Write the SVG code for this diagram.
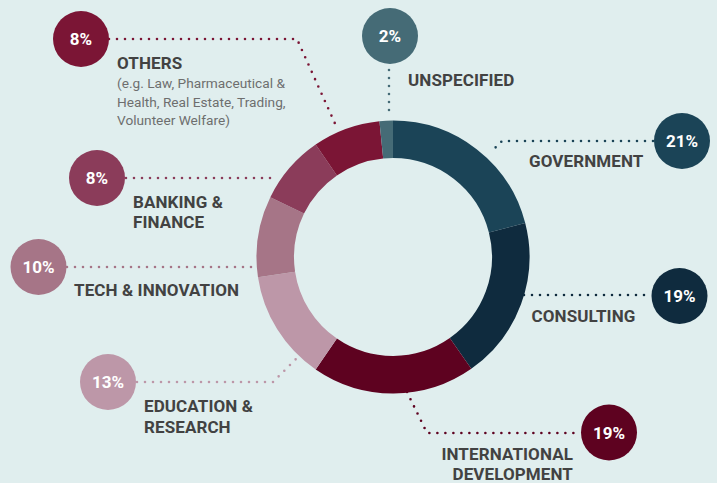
<svg xmlns="http://www.w3.org/2000/svg" width="717" height="483" viewBox="0 0 717 483">
<style>
.lbl{font-family:Roboto,"Liberation Sans",Arial,sans-serif;font-weight:bold;font-size:17px;letter-spacing:0.1px;fill:#424242}
.sub{font-family:Roboto,"Liberation Sans",Arial,sans-serif;font-size:13.7px;fill:#6e6e6e}
.pct{font-family:Roboto,"Liberation Sans",Arial,sans-serif;font-weight:bold;font-size:17px;fill:#ffffff;text-anchor:middle}
.seg{fill:none;stroke-width:37.5}
.dot{fill:none;stroke-width:2.6;stroke-linecap:round;stroke-linejoin:round;stroke-dasharray:0 8}
</style>
<rect x="0" y="0" width="717" height="483" fill="#e0eeee"/>
<g id="donut">
<path class="seg" stroke="#1b4457" d="M393 139.25 A117.75 117.75 0 0 1 507.05 227.72"/>
<path class="seg" stroke="#0f2b3e" d="M507.05 227.72 A117.75 117.75 0 0 1 460.54 353.45"/>
<path class="seg" stroke="#5e0220" d="M460.54 353.45 A117.75 117.75 0 0 1 326.30 354.04"/>
<path class="seg" stroke="#bd97a8" d="M326.30 354.04 A117.75 117.75 0 0 1 276.54 274.40"/>
<path class="seg" stroke="#a67587" d="M276.54 274.40 A117.75 117.75 0 0 1 287.17 205.38"/>
<path class="seg" stroke="#8b3c5a" d="M287.17 205.38 A117.75 117.75 0 0 1 326.30 159.96"/>
<path class="seg" stroke="#7b1535" d="M326.30 159.96 A117.75 117.75 0 0 1 381.31 139.83"/>
<path class="seg" stroke="#456b76" d="M381.31 139.83 A117.75 117.75 0 0 1 393 139.25"/>
</g>
<g id="connectors">
<path class="dot" stroke="#7b1535" d="M109 39 H297 L337 128"/>
<path class="dot" stroke="#456b76" d="M389 70 V118"/>
<path class="dot" stroke="#1b4457" d="M653 141 H502 L490 153"/>
<path class="dot" stroke="#8b3c5a" d="M126 178 H276"/>
<path class="dot" stroke="#a67587" d="M67 267 H254"/>
<path class="dot" stroke="#bd97a8" d="M137 382 H273 L297 358"/>
<path class="dot" stroke="#0f2b3e" d="M524 295 H652"/>
<path class="dot" stroke="#5e0220" d="M407 392 L427 433 H581"/>
</g>
<g id="others">
<circle cx="81" cy="39" r="28" fill="#7b1535"/>
<text class="pct" x="81" y="45">8%</text>
<text class="lbl" x="117" y="69">OTHERS</text>
<text class="sub" x="117" y="87.5">(e.g. Law, Pharmaceutical &amp;</text>
<text class="sub" x="117" y="106.5">Health, Real Estate, Trading,</text>
<text class="sub" x="117" y="125">Volunteer Welfare)</text>
</g>
<g id="unspecified">
<circle cx="390" cy="36" r="28" fill="#456b76"/>
<text class="pct" x="390" y="42">2%</text>
<text class="lbl" x="408" y="86">UNSPECIFIED</text>
</g>
<g id="government">
<circle cx="682" cy="141" r="28" fill="#1b4457"/>
<text class="pct" x="682" y="147">21%</text>
<text class="lbl" x="529" y="166.5">GOVERNMENT</text>
</g>
<g id="banking">
<circle cx="97" cy="178" r="28" fill="#8b3c5a"/>
<text class="pct" x="97" y="184">8%</text>
<text class="lbl" x="133" y="207.5">BANKING &amp;</text>
<text class="lbl" x="133" y="227.5">FINANCE</text>
</g>
<g id="tech">
<circle cx="38.5" cy="267" r="28" fill="#a67587"/>
<text class="pct" x="38.5" y="273">10%</text>
<text class="lbl" x="74" y="295.5">TECH &amp; INNOVATION</text>
</g>
<g id="education">
<circle cx="108" cy="382" r="28" fill="#bd97a8"/>
<text class="pct" x="108" y="388">13%</text>
<text class="lbl" x="144" y="411.5">EDUCATION &amp;</text>
<text class="lbl" x="144" y="432.5">RESEARCH</text>
</g>
<g id="consulting">
<circle cx="679.5" cy="296" r="28" fill="#0f2b3e"/>
<text class="pct" x="679.5" y="302">19%</text>
<text class="lbl" x="531.5" y="321.5">CONSULTING</text>
</g>
<g id="international">
<circle cx="609" cy="432.5" r="28" fill="#5e0220"/>
<text class="pct" x="609" y="438.5">19%</text>
<text class="lbl" x="573" y="460" text-anchor="end">INTERNATIONAL</text>
<text class="lbl" x="573" y="480" text-anchor="end">DEVELOPMENT</text>
</g>
</svg>
